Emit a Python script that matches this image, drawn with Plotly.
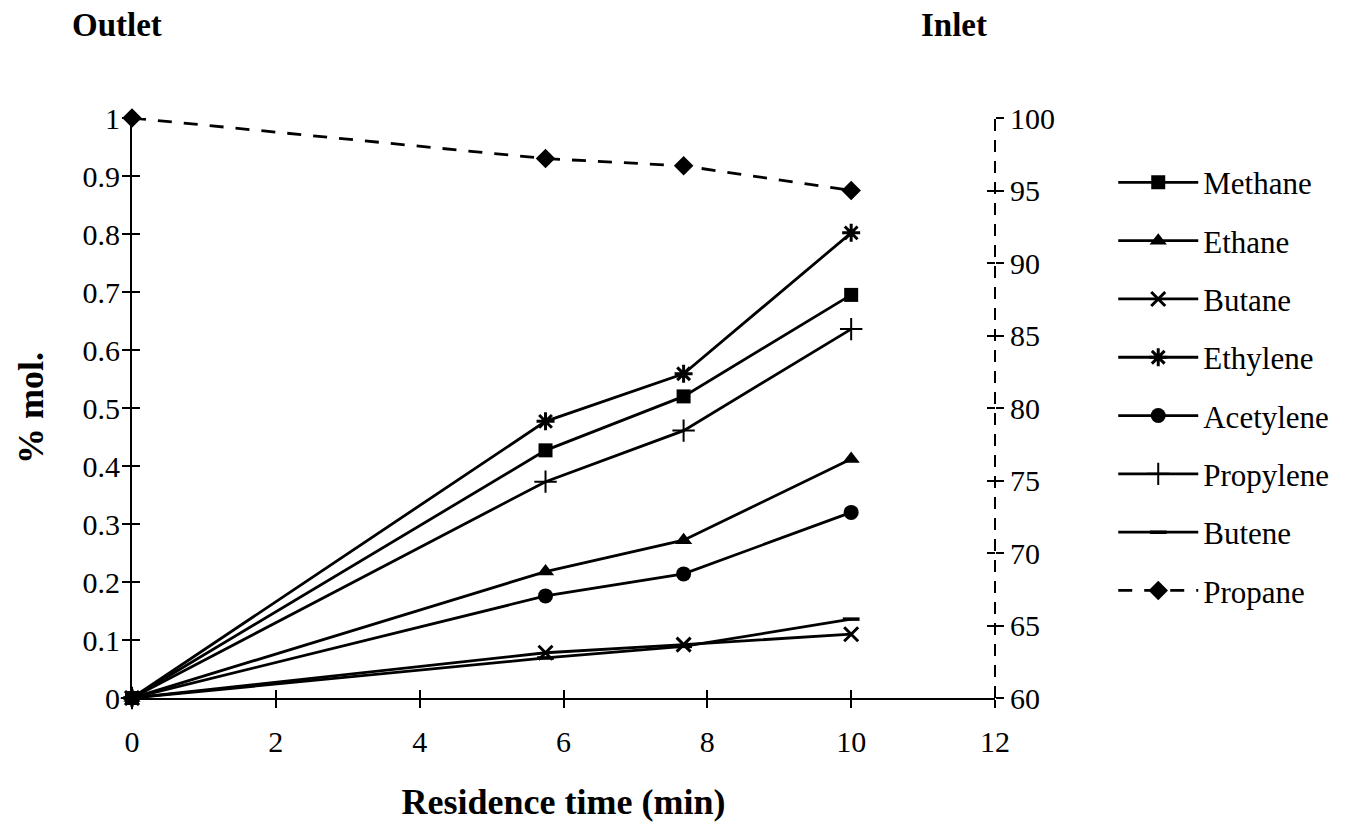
import plotly.graph_objects as go

# ---- data ----
time_min = [0, 5.75, 7.67, 10]
methane = [0, 0.427, 0.520, 0.695]
ethane = [0, 0.218, 0.272, 0.412]
butane = [0, 0.078, 0.092, 0.110]
ethylene = [0, 0.477, 0.559, 0.802]
acetylene = [0, 0.176, 0.214, 0.320]
propylene = [0, 0.373, 0.461, 0.636]
butene = [0, 0.069, 0.089, 0.136]
propane = [100, 97.2, 96.7, 95.0]

x_ticks = [0, 2, 4, 6, 8, 10, 12]
left_ticks = [0, 0.1, 0.2, 0.3, 0.4, 0.5, 0.6, 0.7, 0.8, 0.9, 1]
right_ticks = [60, 65, 70, 75, 80, 85, 90, 95, 100]

FONT = "Liberation Serif"
BLACK = "black"

series = [
    ("Methane", methane, dict(symbol="square", size=14)),
    ("Ethane", ethane, dict(symbol="triangle-up", size=15)),
    ("Butane", butane, dict(symbol="x-thin-open", size=14, line=dict(width=3, color=BLACK))),
    ("Ethylene", ethylene, dict(symbol="asterisk-open", size=15, line=dict(width=3, color=BLACK))),
    ("Acetylene", acetylene, dict(symbol="circle", size=15)),
    ("Propylene", propylene, dict(symbol="cross-thin-open", size=16, line=dict(width=2, color=BLACK))),
    ("Butene", butene, dict(symbol="line-ew-open", size=12, line=dict(width=3.5, color=BLACK))),
]

fig = go.Figure()
for name, vals, mk in series:
    mk = dict(mk)
    mk.setdefault("color", BLACK)
    fig.add_trace(go.Scatter(
        x=time_min, y=vals, name=name, mode="lines+markers",
        line=dict(color=BLACK, width=2.8), marker=mk,
        legendgroup=name, cliponaxis=False,
    ))

fig.add_trace(go.Scatter(
    x=time_min, y=propane, name="Propane", mode="lines+markers",
    line=dict(color=BLACK, width=2.8, dash="14px,12px"),
    marker=dict(symbol="diamond", size=15, color=BLACK),
    legendgroup="Propane", yaxis="y2", cliponaxis=False,
))

# empty helper traces so the overlaid "inside tick" axes get drawn (crossing ticks)
fig.add_trace(go.Scatter(x=[None], y=[None], xaxis="x2", yaxis="y3",
                         showlegend=False, hoverinfo="skip"))
fig.add_trace(go.Scatter(x=[None], y=[None], xaxis="x2", yaxis="y4",
                         showlegend=False, hoverinfo="skip"))

tickfont = dict(family=FONT, size=30, color=BLACK)
common = dict(showgrid=False, zeroline=False, tickcolor=BLACK, tickwidth=2, ticklen=8)

fig.update_layout(
    width=1346, height=828,
    margin=dict(l=132, r=348, t=118, b=130),
    paper_bgcolor="white", plot_bgcolor="white",
    font=dict(family=FONT, color=BLACK),
    xaxis=dict(range=[0, 12], tickvals=x_ticks, ticks="outside",
               showline=True, linecolor=BLACK, linewidth=2,
               tickfont=tickfont, ticklabelstandoff=8,
               title=dict(text="<b>Residence time (min)</b>",
                          font=dict(family=FONT, size=36, color=BLACK), standoff=32),
               **common),
    xaxis2=dict(range=[0, 12], tickvals=x_ticks, ticks="inside", overlaying="x",
                anchor="y", showticklabels=False, showline=False, **common),
    yaxis=dict(range=[0, 1], tickvals=left_ticks, ticks="outside",
               showline=True, linecolor=BLACK, linewidth=2,
               tickfont=tickfont, ticklabelstandoff=-4,
               title=dict(text="<b>% mol.</b>",
                          font=dict(family=FONT, size=36, color=BLACK), standoff=28),
               **common),
    yaxis2=dict(range=[60, 100], tickvals=right_ticks, ticks="outside",
                overlaying="y", side="right", anchor="x", showline=False,
                tickfont=tickfont, **common),
    yaxis3=dict(range=[0, 1], tickvals=left_ticks, ticks="inside", overlaying="y",
                side="left", anchor="x2", showticklabels=False, showline=False, **common),
    yaxis4=dict(range=[60, 100], tickvals=right_ticks, ticks="inside", overlaying="y",
                side="right", anchor="x2", showticklabels=False, showline=False, **common),
    legend=dict(x=1.137, y=0.935, xanchor="left", yanchor="top",
                font=dict(family=FONT, size=31, color=BLACK),
                itemwidth=80, tracegroupgap=15, bgcolor="rgba(0,0,0,0)"),
    showlegend=True,
    shapes=[dict(type="line", xref="paper", yref="paper", x0=1, x1=1, y0=0, y1=1,
                 line=dict(color=BLACK, width=2, dash="12px,9px"), layer="below")],
    annotations=[
        dict(text="<b>Outlet</b>", xref="paper", yref="paper", x=-0.017, y=1.16,
             xanchor="center", yanchor="middle", showarrow=False,
             font=dict(family=FONT, size=33, color=BLACK)),
        dict(text="<b>Inlet</b>", xref="paper", yref="paper", x=0.953, y=1.16,
             xanchor="center", yanchor="middle", showarrow=False,
             font=dict(family=FONT, size=33, color=BLACK)),
    ],
)

fig.write_html("out.html")
